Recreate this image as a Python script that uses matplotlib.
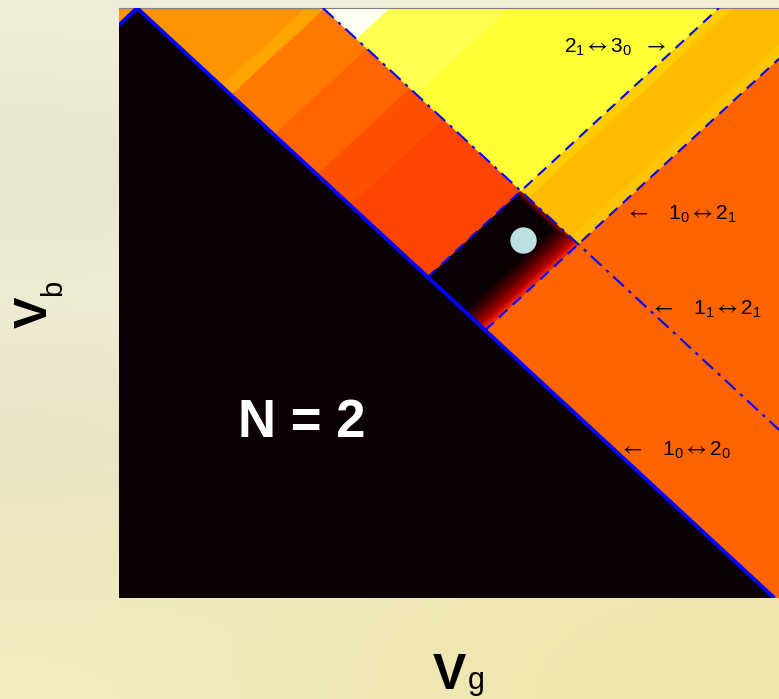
import numpy as np
import matplotlib
matplotlib.use("Agg")
import matplotlib.pyplot as plt
from matplotlib.patches import Polygon
from matplotlib.colors import LinearSegmentedColormap, to_rgb

plt.rcParams.update({
    "font.family": ["Liberation Sans", "DejaVu Sans"],
    "mathtext.fontset": "custom",
    "mathtext.rm": "Liberation Sans",
    "mathtext.it": "Liberation Sans:italic",
    "mathtext.bf": "Liberation Sans:bold",
    "mathtext.sf": "STIXGeneral",
})

# --- transition lines in the (Vg, Vb) plane, axis spans 0..1 ---
solid_left = [(0.0, 0.971), (0.0273, 1.0)]
solid_main = [(0.0273, 1.0), (0.993, 0.0)]      # 1_0 <-> 2_0
line_a = [(0.309, 1.0), (1.0, 0.285)]           # upper edge / 1_1 <-> 2_1
line_b = [(0.468, 0.544), (0.909, 1.0)]         # 2_1 <-> 3_0
line_c = [(0.555, 0.454), (1.0, 0.914)]         # 1_0 <-> 2_1

# colour bands (edges in Vg, bands run parallel to line_b)
stripe_edges = [0.0273, 0.155, 0.170, 0.235, 0.300, 0.350, 0.468]   # anchored on solid line
stripe_colors = ['#ff9400', '#ffa400', '#ff7800', '#ff6400', '#ff5000', '#ff4400']
yellow_edges = [0.309, 0.411, 0.592, 0.909]                          # anchored on top edge
yellow_colors = ['#fffff2', '#ffff52', '#ffff36']
amber_edges = [0.909, 0.932, 1.060, 1.083]                            # anchored on top edge
amber_colors = ['#ffcc00', '#ffbb00', '#ffc600']
black_color = '#0b0002'
corner_color = '#ff9400'
right_color = '#ff6300'
dark_stops = ['#0b0002', '#0b0002', '#4a0000', '#b00000', '#ff2a00']

dot_xy = (0.612, 0.607)

LA, LR, RA = r'\mathsf{\leftarrow}', r'\mathsf{\leftrightarrow}', r'\mathsf{\rightarrow}'
label_text = [f'$2_1{LR}3_0$  ${RA}$',
              f'${LA}$   $1_0{LR}2_1$',
              f'${LA}$   $1_1{LR}2_1$',
              f'${LA}$   $1_0{LR}2_0$']
label_x = [0.675, 0.767, 0.805, 0.757]
label_y = [0.924, 0.641, 0.480, 0.241]

# slide background colours (rows top -> bottom, cols left -> right)
bg_hex = [['#f0eeda', '#f2f0da', '#f3f0d6'],
          ['#e4e1cb', '#efecd2', '#f1eed0'],
          ['#f2f0d8', '#f1eecf', '#f1ecc8'],
          ['#e6e2c6', '#efeac8', '#f0eac0'],
          ['#ece6bf', '#efe9bb', '#efe8b5'],
          ['#f3edc2', '#efe8b4', '#eee6ac']]


def cross(l1, l2):
    (x1, y1), (x2, y2) = l1
    (x3, y3), (x4, y4) = l2
    d = (x1 - x2) * (y3 - y4) - (y1 - y2) * (x3 - x4)
    t = ((x1 - x3) * (y3 - y4) - (y1 - y3) * (x3 - x4)) / d
    return (x1 + t * (x2 - x1), y1 + t * (y2 - y1))


W, H = 779, 699
fig = plt.figure(figsize=(W / 100, H / 100), dpi=100)

# slide background
bg = fig.add_axes([0, 0, 1, 1], zorder=-5)
bg_cols = np.array([[to_rgb(c) for c in row] for row in bg_hex])
bg.imshow(bg_cols, interpolation='bicubic', aspect='auto', extent=(0, 1, 0, 1))
bg.axis('off')

ax = fig.add_axes([119 / W, 101 / H, 660 / W, 590 / H])
ax.set_xlim(0, 1)
ax.set_ylim(0, 1)
ax.set_xticks([])
ax.set_yticks([])
for s in ['left', 'right', 'bottom']:
    ax.spines[s].set_visible(False)
ax.spines['top'].set_color('#808080')
ax.spines['top'].set_linewidth(0.8)

p_bs = cross(line_b, solid_main)
p_ab = cross(line_a, line_b)
p_ac = cross(line_a, line_c)
p_cs = cross(line_c, solid_main)
c_right = line_c[1]
dir_b = np.array(line_b[1]) - np.array(line_b[0])
dir_b = dir_b / np.hypot(*dir_b)


def region(verts, color):
    poly = Polygon(verts, closed=True, facecolor=color, edgecolor='none',
                   transform=ax.transData, zorder=1)
    ax.add_patch(poly)
    return poly


def bands(anchors, colors, clip):
    for a0, a1, col in zip(anchors[:-1], anchors[1:], colors):
        a0, a1 = np.array(a0), np.array(a1)
        verts = [a0 - 3 * dir_b, a1 - 3 * dir_b, a1 + 3 * dir_b, a0 + 3 * dir_b]
        p = Polygon(verts, closed=True, facecolor=col, edgecolor=col, lw=0.3, zorder=1.5)
        ax.add_patch(p)
        p.set_clip_path(clip)


region([(0, 0), solid_left[0], solid_main[0], solid_main[1]], black_color)
region([solid_left[0], (0, 1), solid_left[1]], corner_color)

stripe = region([solid_main[0], line_a[0], p_ab, p_bs], stripe_colors[0])
sm = np.array(solid_main)
stripe_anchor = [(e, np.interp(e, sm[:, 0], sm[:, 1])) for e in stripe_edges]
bands(stripe_anchor, stripe_colors, stripe)

yellow = region([line_a[0], p_ab, line_b[1]], yellow_colors[-1])
bands([(e, 1.0) for e in yellow_edges], yellow_colors, yellow)

amber = region([p_ab, line_b[1], (1, 1), c_right, p_ac], amber_colors[1])
bands([(e, 1.0) for e in amber_edges], amber_colors, amber)

region([p_cs, c_right, (1, 0), solid_main[1]], right_color)

# dark pocket between the four lines
dark = region([p_bs, p_ab, p_ac, p_cs], black_color)
xs = np.linspace(0.44, 0.72, 400)
ys = np.linspace(0.42, 0.72, 400)
gx, gy = np.meshgrid(xs, ys)
kb = (line_b[1][0] - line_b[0][0]) / (line_b[1][1] - line_b[0][1])
kc = (line_c[1][0] - line_c[0][0]) / (line_c[1][1] - line_c[0][1])
xb = line_b[0][0] + (gy - line_b[0][1]) * kb
xc = line_c[0][0] + (gy - line_c[0][1]) * kc
u = (gx - xb) / (xc - xb)
ka = (line_a[1][1] - line_a[0][1]) / (line_a[1][0] - line_a[0][0])
ks = (solid_main[1][1] - solid_main[0][1]) / (solid_main[1][0] - solid_main[0][0])
ya = line_a[0][1] + (gx - line_a[0][0]) * ka
ysl = solid_main[0][1] + (gx - solid_main[0][0]) * ks
v = (gy - ysl) / (ya - ysl)
f = np.maximum(np.clip((u - 0.58) / 0.42, 0, 1), 0.75 * np.clip((v - 0.94) / 0.06, 0, 1))
cmap = LinearSegmentedColormap.from_list('pocket', list(zip([0, 0.12, 0.45, 0.8, 1.0], dark_stops)))
im = ax.imshow(f, cmap=cmap, vmin=0, vmax=1, origin='lower',
               extent=(xs[0], xs[-1], ys[0], ys[-1]), aspect='auto', zorder=2,
               interpolation='bilinear')
im.set_clip_path(dark)

# transition lines
blue = '#0000ff'
ax.plot(*zip(*solid_left), color=blue, lw=2.8, zorder=4, solid_capstyle='butt')
ax.plot(*zip(*solid_main), color=blue, lw=2.8, zorder=4, solid_capstyle='butt')
ax.plot(*zip(*line_a), color=blue, lw=1.5, zorder=3, ls=(0, (7, 3, 1.6, 3)))
ax.plot(*zip(*[p_bs, line_b[1]]), color=blue, lw=1.5, zorder=3, ls=(0, (5.5, 3.5)))
ax.plot(*zip(*[p_cs, c_right]), color=blue, lw=1.5, zorder=3, ls=(0, (5.5, 3.5)))

ax.plot([dot_xy[0]], [dot_xy[1]], 'o', ms=19, color='#bde0e2', mec='none', zorder=5)

for t, x, y in zip(label_text, label_x, label_y):
    ax.text(x, y, t, fontsize=15, color='black', ha='left', va='baseline', zorder=6)

ax.text(0.180, 0.273, 'N = 2', fontsize=38, fontweight='bold', color='white',
        ha='left', va='baseline', zorder=6)

# axis labels: bold V with a plain subscript
fig.text(433 / W, 1 - 689 / H, 'V', fontsize=36, fontweight='bold', ha='left', va='baseline')
fig.text(468 / W, 1 - 689 / H, 'g', fontsize=22, ha='left', va='baseline')
fig.text(47 / W, 1 - 328 / H, 'V', fontsize=34, fontweight='bold', rotation=90,
         rotation_mode='anchor', ha='left', va='baseline')
fig.text(61 / W, 1 - 296 / H, 'b', fontsize=21, rotation=90,
         rotation_mode='anchor', ha='left', va='baseline')

fig.savefig('out.png', dpi=100)
